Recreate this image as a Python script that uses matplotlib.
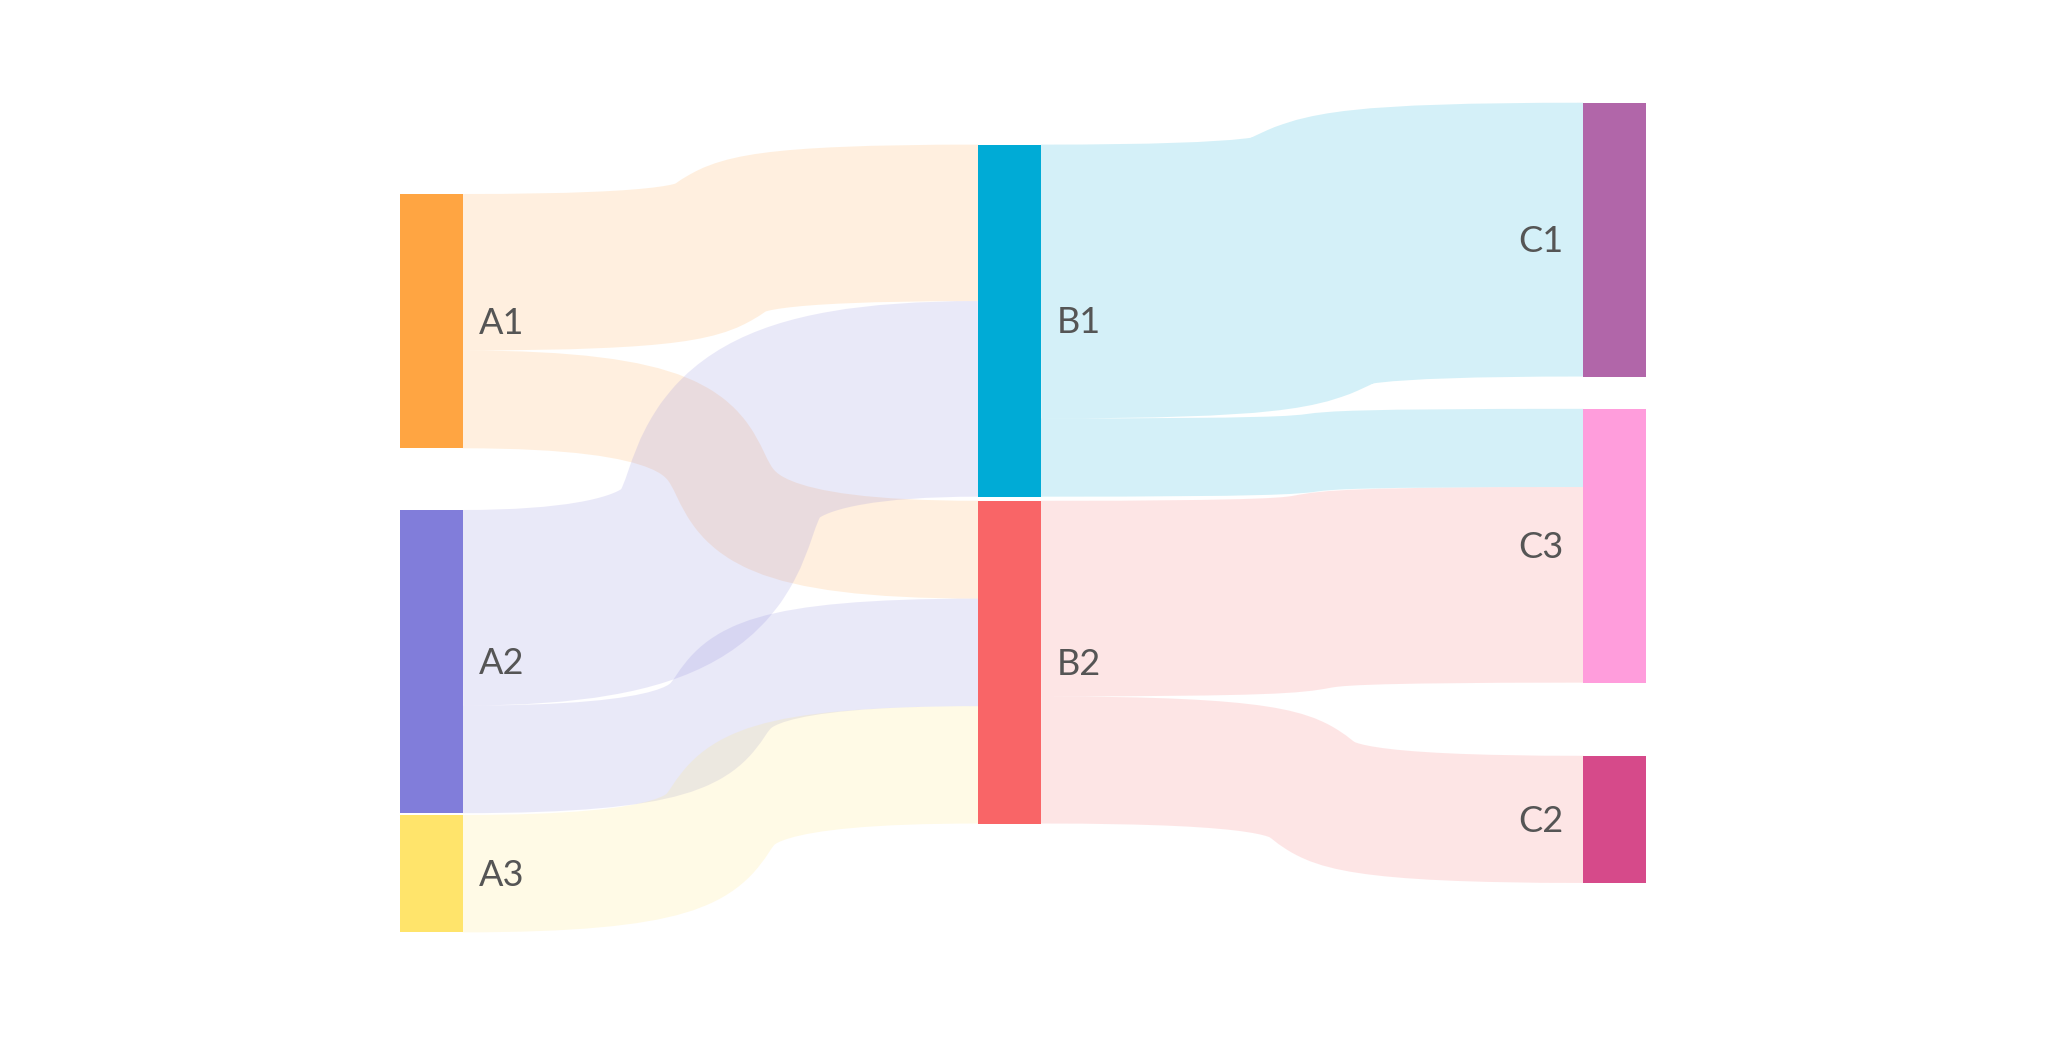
#!/usr/bin/env python3
"""Three-column Sankey diagram (A -> B -> C) drawn with plain matplotlib."""

import matplotlib

matplotlib.use("Agg")

import matplotlib.pyplot as plt
from matplotlib.patches import PathPatch, Rectangle
from matplotlib.path import Path

# data
nodes = ["A1", "A2", "A3", "B1", "B2", "C1", "C3", "C2"]
node_column = [0, 0, 0, 1, 1, 2, 2, 2]
node_colors = ["#FFA542", "#817DDA", "#FFE46B", "#00ABD6",
               "#F96567", "#B166A9", "#FF9DDC", "#D64A8A"]

link_source = ["A1", "A1", "A2", "A2", "A3", "B1", "B1", "B2", "B2"]
link_target = ["B1", "B2", "B1", "B2", "B2", "C1", "C3", "C3", "C2"]
link_value = [16, 10, 20, 11, 12, 28, 8, 20, 13]

# layout (pixels, figure is 2061 x 1042)
W_PX, H_PX = 2061, 1042
px_per_unit = 9.78
column_left = [400, 978.3, 1583.3]
node_width = 62.7
node_top = {"A1": 194, "A2": 510, "A3": 815,
            "B1": 144.6, "B2": 500.8,
            "C1": 102.7, "C3": 408.8, "C2": 755.8}
link_alpha = 0.17
ctrl = 0.86   # control point distance, share of the gap between columns

fig = plt.figure(figsize=(W_PX / 100, H_PX / 100), dpi=100)
ax = fig.add_axes([0, 0, 1, 1])
ax.set_xlim(0, W_PX)
ax.set_ylim(H_PX, 0)
ax.axis("off")

color_of = dict(zip(nodes, node_colors))
col_of = dict(zip(nodes, node_column))

# node sizes from flows
out_sum = {n: 0 for n in nodes}
in_sum = {n: 0 for n in nodes}
for s, t, v in zip(link_source, link_target, link_value):
    out_sum[s] += v
    in_sum[t] += v
node_value = {n: max(out_sum[n], in_sum[n]) for n in nodes}

# stack links inside nodes, ordered by the other end's position
src_off = {n: 0.0 for n in nodes}
tgt_off = {n: 0.0 for n in nodes}
links = list(zip(link_source, link_target, link_value))
src_y, tgt_y = {}, {}
for i in sorted(range(len(links)), key=lambda k: (node_top[links[k][0]], node_top[links[k][1]])):
    s, t, v = links[i]
    src_y[i] = node_top[s] + src_off[s]
    src_off[s] += v * px_per_unit
for i in sorted(range(len(links)), key=lambda k: (node_top[links[k][1]], node_top[links[k][0]])):
    s, t, v = links[i]
    tgt_y[i] = node_top[t] + tgt_off[t]
    tgt_off[t] += v * px_per_unit

# each link is a thick stroke along a cubic curve between the two nodes
for i, (s, t, v) in enumerate(links):
    thick = v * px_per_unit
    x0 = column_left[col_of[s]] + node_width
    x1 = column_left[col_of[t]]
    y0 = src_y[i] + thick / 2
    y1 = tgt_y[i] + thick / 2
    w = x1 - x0
    verts = [(x0, y0), (x0 + ctrl * w, y0), (x1 - ctrl * w, y1), (x1, y1)]
    codes = [Path.MOVETO, Path.CURVE4, Path.CURVE4, Path.CURVE4]
    ax.add_patch(PathPatch(Path(verts, codes), facecolor="none",
                           edgecolor=color_of[s], alpha=link_alpha,
                           linewidth=thick * 72 / 100, capstyle="butt",
                           joinstyle="round", zorder=1))

for n in nodes:
    c = col_of[n]
    h = node_value[n] * px_per_unit
    ax.add_patch(Rectangle((column_left[c], node_top[n]), node_width, h,
                           facecolor=color_of[n], edgecolor="none", zorder=3))
    yc = node_top[n] + h / 2 + 12.5
    if c < 2:
        ax.text(column_left[c] + node_width + 16, yc, n, ha="left", va="baseline",
                fontsize=26, color="#555555", family=["Lato", "DejaVu Sans"],
                zorder=4)
    else:
        ax.text(column_left[c] - 20, yc, n, ha="right", va="baseline",
                fontsize=26, color="#555555", family=["Lato", "DejaVu Sans"],
                zorder=4)

fig.savefig("out.png", dpi=100, facecolor="white")
plt.close(fig)
